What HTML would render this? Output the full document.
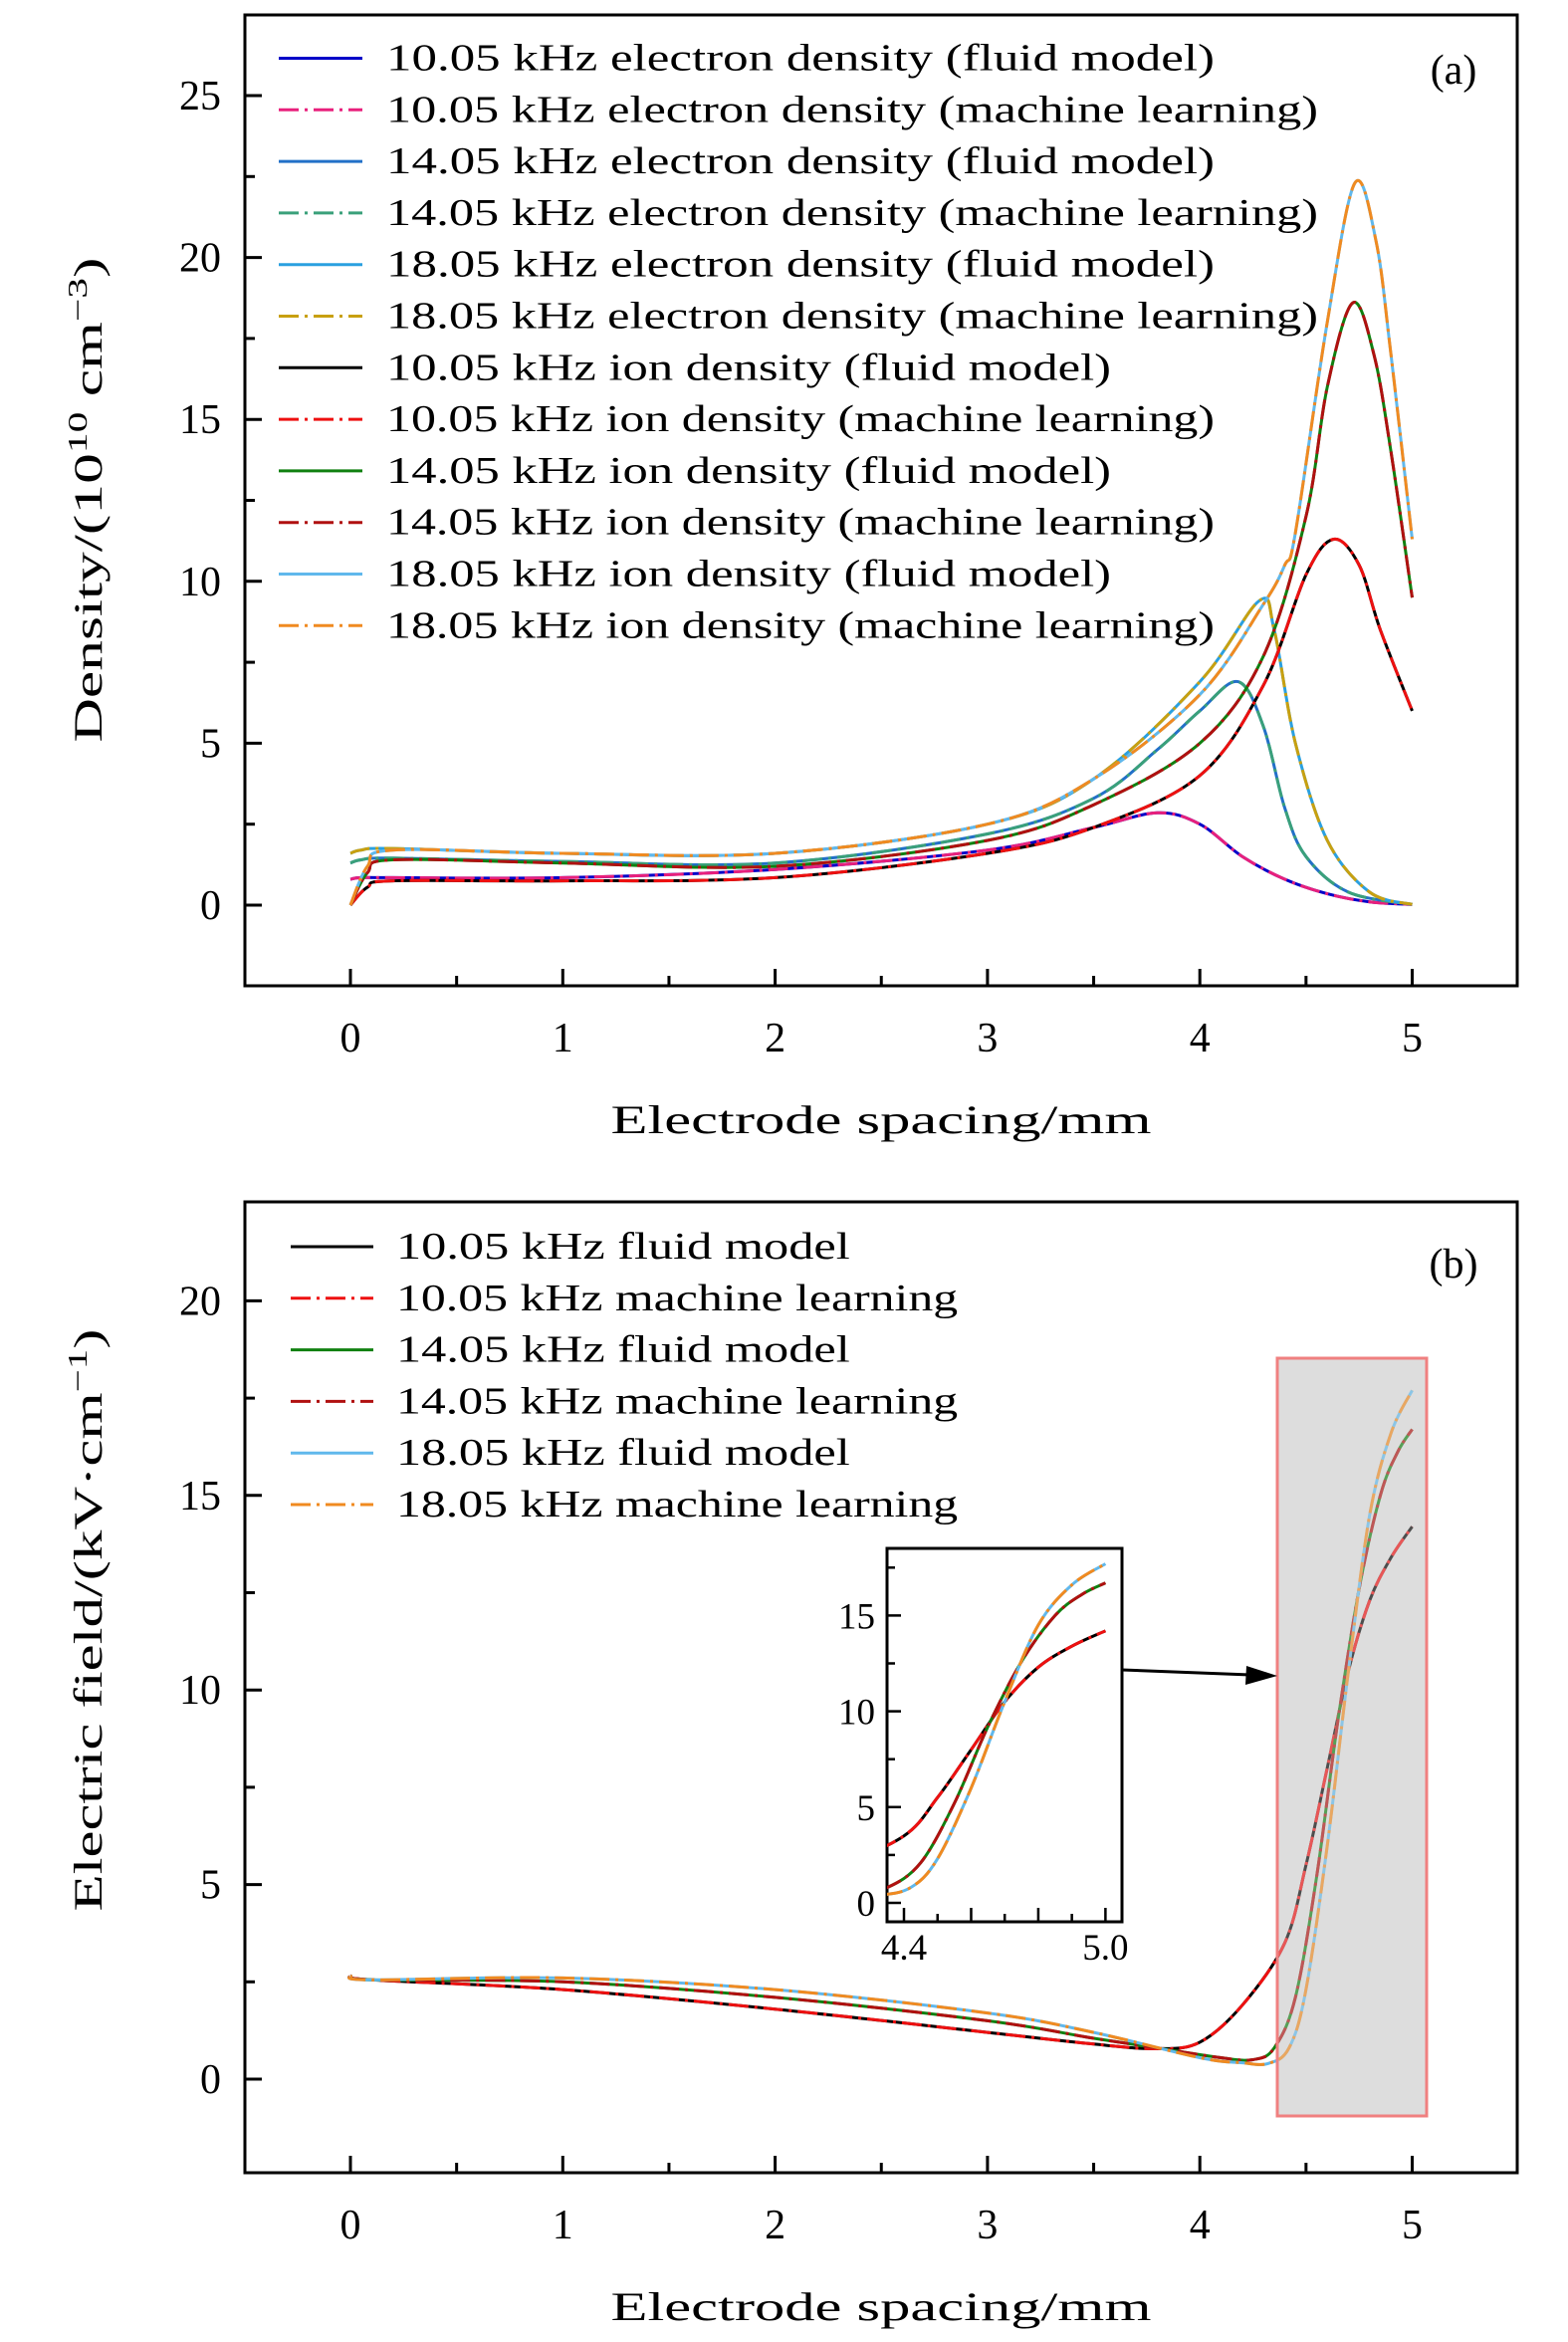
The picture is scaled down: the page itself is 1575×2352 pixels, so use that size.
<!DOCTYPE html>
<html><head><meta charset="utf-8"><style>
body{margin:0;background:#fff}
svg{display:block;font-family:"Liberation Serif",serif}
</style></head><body>
<svg id="fig" width="1575" height="2352" viewBox="0 0 1575 2352" xmlns="http://www.w3.org/2000/svg">
<defs>
<clipPath id="clipA"><rect x="246" y="15" width="1278" height="975"/></clipPath>
<clipPath id="clipB"><rect x="246" y="1207" width="1278" height="975"/></clipPath>
<clipPath id="clipI"><rect x="891" y="1555" width="236" height="375"/></clipPath>
</defs>
<g id="panelA"></g>
<g id="panelB"></g>
</svg>
<script>
// ---- data: panel (a) density, x in mm, y in 1e10 cm^-3 ----
const xTicks = [0,1,2,3,4,5];
const yTicksA = [0,5,10,15,20,25];
const yTicksB = [0,5,10,15,20];
const inXTickLabels = ["4.4","5.0"];
const inYTicks = [0,5,10,15];

const eX10 = [0,0.05,0.2,1,2,3,3.5,3.8,4.0,4.2,4.4,4.6,4.8,5];
const eY10 = [0.8,0.85,0.85,0.85,1.1,1.7,2.4,2.85,2.5,1.5,0.8,0.35,0.1,0.02];
const eX14 = [0,0.05,0.2,1,2,3,3.5,3.8,4.0,4.18,4.3,4.4,4.5,4.7,5];
const eY14 = [1.3,1.4,1.45,1.35,1.3,2.2,3.3,4.8,6.0,6.9,5.5,3.0,1.5,0.4,0.02];
const eX18 = [0,0.05,0.2,1,2,3,3.5,4.0,4.28,4.35,4.45,4.6,4.8,5];
const eY18 = [1.6,1.7,1.75,1.6,1.6,2.5,3.9,6.9,9.4,8.5,5.0,2.0,0.4,0.02];
const iX10 = [0,0.08,0.2,1,2,3,3.5,4.0,4.3,4.5,4.63,4.75,4.85,5];
const iY10 = [0,0.55,0.75,0.75,0.85,1.6,2.4,4.0,6.8,10.2,11.3,10.5,8.5,6.0];
const iX14 = [0,0.08,0.2,1,2,3,3.5,4.0,4.3,4.5,4.6,4.72,4.82,4.9,5];
const iY14 = [0,1.0,1.4,1.3,1.2,2.0,3.1,5.0,7.7,12,16,18.6,17,14,9.5];
const iX18 = [0,0.08,0.2,1,2,3,3.5,4.0,4.3,4.4,4.45,4.6,4.73,4.83,4.9,5];
const iY18 = [0,1.2,1.7,1.6,1.6,2.5,3.9,6.5,9.3,10.5,11.5,18,22.3,20.5,17,11.3];

// ---- data: panel (b) electric field, kV/cm ----
const fX10 = [0,0.1,1,2,3,3.5,3.8,4.0,4.2,4.4,4.5,4.6,4.7,4.8,4.9,5];
const fY10 = [2.65,2.55,2.3,1.8,1.2,0.9,0.78,0.95,1.9,3.5,5.5,8,10.5,12.3,13.4,14.2];
const fX14 = [0,0.1,1,2,3,3.5,3.8,4.1,4.25,4.35,4.45,4.55,4.65,4.75,4.85,4.93,5];
const fY14 = [2.65,2.55,2.5,2.1,1.5,1.05,0.8,0.55,0.5,0.8,2.1,5.2,9.2,12.6,15.0,16.1,16.7];
const fX18 = [0,0.1,1,2,3,3.5,4.0,4.2,4.32,4.42,4.5,4.6,4.7,4.8,4.9,5];
const fY18 = [2.65,2.55,2.6,2.3,1.7,1.2,0.55,0.42,0.4,0.8,2.3,6,10.5,14.5,16.6,17.7];

const legendA = ["10.05 kHz electron density (fluid model)","10.05 kHz electron density (machine learning)","14.05 kHz electron density (fluid model)","14.05 kHz electron density (machine learning)","18.05 kHz electron density (fluid model)","18.05 kHz electron density (machine learning)","10.05 kHz ion density (fluid model)","10.05 kHz ion density (machine learning)","14.05 kHz ion density (fluid model)","14.05 kHz ion density (machine learning)","18.05 kHz ion density (fluid model)","18.05 kHz ion density (machine learning)"];
const legendB = ["10.05 kHz fluid model","10.05 kHz machine learning","14.05 kHz fluid model","14.05 kHz machine learning","18.05 kHz fluid model","18.05 kHz machine learning"];

const NS="http://www.w3.org/2000/svg";
const DASH="20 6 3 6";
function mk(parent,tag,attrs,text){const e=document.createElementNS(NS,tag);for(const k in attrs)e.setAttribute(k,attrs[k]);if(text!==undefined)e.textContent=text;parent.appendChild(e);return e;}
function pathD(xs,ys,sx,sy){
  const p=xs.map((x,i)=>[sx(x),sy(ys[i])]);
  let d="M"+p[0][0].toFixed(1)+","+p[0][1].toFixed(1);
  for(let i=0;i<p.length-1;i++){
    const p0=p[i-1]||p[i],p1=p[i],p2=p[i+1],p3=p[i+2]||p[i+1];
    const c1=[p1[0]+(p2[0]-p0[0])/6,p1[1]+(p2[1]-p0[1])/6];
    const c2=[p2[0]-(p3[0]-p1[0])/6,p2[1]-(p3[1]-p1[1])/6];
    d+="C"+c1.map(v=>v.toFixed(1))+" "+c2.map(v=>v.toFixed(1))+" "+p2[0].toFixed(1)+","+p2[1].toFixed(1);
  }
  return d;
}
const sxMain=x=>352+x*213.3;
const syA=y=>909-y*32.52;
const syB=y=>2088-y*39.08;

function axes(g,top,bottom,sy,yt,yMinor){
  const r=mk(g,"rect",{x:246,y:top,width:1278,height:bottom-top,fill:"none",stroke:"#000","stroke-width":3});
  
  
  for(let x=0;x<=5;x+=0.5){const X=sxMain(x);const L=Number.isInteger(x)?17:10;const t=mk(g,"line",{x1:X,x2:X,y1:bottom,y2:bottom-L,stroke:"#000","stroke-width":3});
    
    }
  xTicks.forEach(v=>{const t=mk(g,"text",{x:sxMain(v),y:bottom+66,"text-anchor":"middle","font-size":42},String(v));
    
    });
  for(let y=yMinor[0];y<=yMinor[1];y+=2.5){const Y=sy(y);const L=(y%5===0)?17:10;const t=mk(g,"line",{x1:246,x2:246+L,y1:Y,y2:Y,stroke:"#000","stroke-width":3});
    
    }
  yt.forEach(v=>{const t=mk(g,"text",{x:222,y:sy(v)+14,"text-anchor":"end","font-size":42},String(v));
    
    });
  const xl=mk(g,"text",{x:885,y:bottom+148,"text-anchor":"middle","font-size":40,textLength:543,lengthAdjust:"spacingAndGlyphs"},"Electrode spacing/mm");
  
  
}
function series(g,xs,ys,sx,sy,color,dashed,clip,name){
  const p=mk(g,"path",{d:pathD(xs,ys,sx,sy),fill:"none",stroke:color,"stroke-width":3,"clip-path":"url(#"+clip+")"});
  if(dashed)p.setAttribute("stroke-dasharray",DASH);
  
  
}
function legend(g,labels,colors,x0,x1,tx,y0,len){
  labels.forEach((lab,i)=>{
    const y=y0+i*51.8;
    const l=mk(g,"line",{x1:x0,x2:x1,y1:y,y2:y,stroke:colors[i],"stroke-width":3});
    if(i%2===1)l.setAttribute("stroke-dasharray",DASH);
    
    
    const t=mk(g,"text",{x:tx,y:y+12,"font-size":38,textLength:len(lab),lengthAdjust:"spacingAndGlyphs"},lab);
    
    
  });
}

// ---- panel A ----
const A=document.getElementById("panelA");
axes(A,15,990,syA,yTicksA,[0,25]);
const ya=mk(A,"text",{transform:"translate(102,502) rotate(-90)","text-anchor":"middle","font-size":40,textLength:487,lengthAdjust:"spacingAndGlyphs"});


ya.innerHTML='Density/(10<tspan font-size="27" dy="-15">10</tspan><tspan dy="15"> cm</tspan><tspan font-size="27" dy="-15">−3</tspan><tspan dy="15">)</tspan>';
const colA=["#0000c8","#e8207c","#2270c8","#3aa07a","#2aa0e0","#c8a010","#000000","#ee1010","#108010","#b01010","#60b8ec","#f08a20"];
const sA=[[eX10,eY10],[eX10,eY10],[eX14,eY14],[eX14,eY14],[eX18,eY18],[eX18,eY18],[iX10,iY10],[iX10,iY10],[iX14,iY14],[iX14,iY14],[iX18,iY18],[iX18,iY18]];
sA.forEach((s,i)=>series(A,s[0],s[1],sxMain,syA,colA[i],i%2===1,"clipA","density-line-"+i));
legend(A,legendA,colA,280,364,388,58.5,lab=>lab.length*20.8);
const la=mk(A,"text",{x:1460,y:84,"text-anchor":"middle","font-size":42},"(a)");



// ---- panel B ----
const B=document.getElementById("panelB");
const gray=mk(B,"rect",{x:1283,y:1364,width:150,height:761,fill:"#dedede",stroke:"#f08080","stroke-width":3});


axes(B,1207,2182,syB,yTicksB,[0,20]);
const yb=mk(B,"text",{transform:"translate(102,1627) rotate(-90)","text-anchor":"middle","font-size":40,textLength:585,lengthAdjust:"spacingAndGlyphs"});


yb.innerHTML='Electric field/(kV·cm<tspan font-size="27" dy="-15">−1</tspan><tspan dy="15">)</tspan>';
const colB=["#000000","#ee1010","#108010","#b01010","#60b8ec","#f08a20"];
const sB=[[fX10,fY10],[fX10,fY10],[fX14,fY14],[fX14,fY14],[fX18,fY18],[fX18,fY18]];
sB.forEach((s,i)=>series(B,s[0],s[1],sxMain,syB,colB[i],i%2===1,"clipB","field-line-"+i));
const ov=mk(B,"rect",{x:1283,y:1364,width:150,height:761,fill:"#dedede","fill-opacity":0.35,stroke:"#f08080","stroke-width":3});


legend(B,legendB,colB,292,375,398,1252,lab=>lab.length*21.7);
const lb=mk(B,"text",{x:1460,y:1283,"text-anchor":"middle","font-size":42},"(b)");



// ---- inset ----
const sxI=x=>908+(x-4.4)*337.3;
const syI=y=>1911-y*19.24;
const I=mk(B,"g",{});


const ib=mk(I,"rect",{x:891,y:1555,width:236,height:375,fill:"#fff",stroke:"#000","stroke-width":3});


sB.forEach((s,i)=>series(I,s[0],s[1],sxI,syI,colB[i],i%2===1,"clipI","inset-line-"+i));
for(let k=0;k<=6;k++){const x=4.4+k*0.1;const X=sxI(x);const t=mk(I,"line",{x1:X,x2:X,y1:1930,y2:1930-(k%2===0?14:8),stroke:"#000","stroke-width":2.5});
  
  }
for(let y=0;y<=17.5;y+=2.5){const Y=syI(y);const t=mk(I,"line",{x1:891,x2:891+(y%5===0?14:8),y1:Y,y2:Y,stroke:"#000","stroke-width":2.5});
  
  }
inYTicks.forEach(v=>{const t=mk(I,"text",{x:879,y:syI(v)+13,"text-anchor":"end","font-size":37},String(v));
  
  });
inXTickLabels.forEach(v=>{const t=mk(I,"text",{x:sxI(parseFloat(v)),y:1968,"text-anchor":"middle","font-size":37},v);
  
  });
const ar=mk(B,"line",{x1:1127,y1:1677,x2:1256,y2:1682,stroke:"#000","stroke-width":3});


const ah=mk(B,"polygon",{points:"1283,1683 1252,1673 1251,1692",fill:"#000"});


</script>
</body></html>
